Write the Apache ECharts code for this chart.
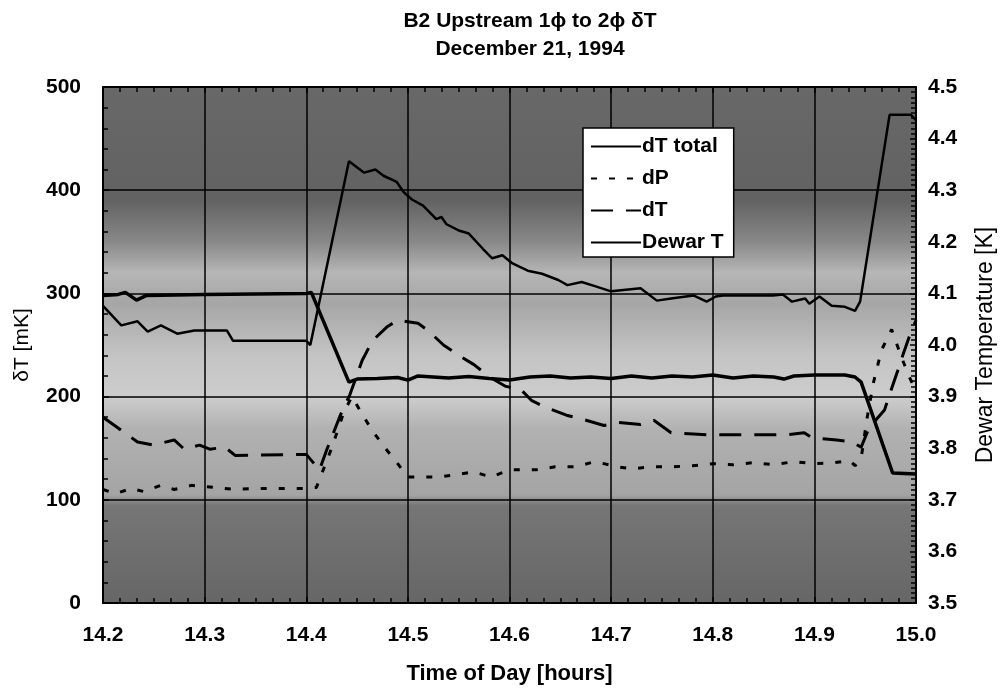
<!DOCTYPE html>
<html>
<head>
<meta charset="utf-8">
<script src="https://cdn.jsdelivr.net/npm/echarts@6/dist/echarts.min.js"></script>
<style>
html,body{margin:0;padding:0;background:#fff;overflow:hidden;}
#chart{width:1005px;height:690px;}
</style>
</head>
<body>
<div id="chart"></div>
<script>
// ---- data (time of day [hours], value) ----
const titleLines = ['B2 Upstream 1\u03d5 to 2\u03d5 \u03b4T', 'December 21, 1994'];
const seriesNames = ['dT total', 'dP', 'dT', 'Dewar T'];
const xTickLabels = ['14.2','14.3','14.4','14.5','14.6','14.7','14.8','14.9','15.0'];

// dT total [mK]
const dTTotal = [
  [14.2,288],[14.218,269],[14.234,273],[14.244,263],[14.257,269],[14.273,261],[14.29,264],
  [14.322,264],[14.328,254],[14.4,254],[14.404,250],[14.442,428],[14.457,417],[14.468,420],
  [14.476,414],[14.489,408],[14.496,398],[14.504,391],[14.515,385],[14.528,372],[14.533,374],
  [14.538,367],[14.55,361],[14.56,358],[14.574,343],[14.583,334],[14.593,337],[14.603,329],
  [14.618,322],[14.632,319],[14.648,313],[14.657,308],[14.671,311],[14.684,307],[14.7,302],
  [14.729,305],[14.745,293],[14.759,295],[14.781,298],[14.794,292],[14.803,297],[14.81,298],
  [14.859,298],[14.869,299],[14.878,292],[14.891,295],[14.895,290],[14.905,297],[14.917,288],
  [14.93,287],[14.94,283],[14.945,292],[14.974,473],[14.995,473],[15.0,468]
];

// dP [mK]
const dP = [
  [14.2,110],[14.212,106],[14.228,111],[14.24,108],[14.257,114],[14.27,110],[14.287,114],
  [14.31,112],[14.33,110],[14.35,111],[14.4,111],[14.41,112],[14.425,150],[14.437,185],
  [14.445,200],[14.455,183],[14.465,167],[14.477,151],[14.49,135],[14.5,122],[14.51,122],
  [14.53,122],[14.545,124],[14.565,127],[14.582,122],[14.6,129],[14.626,129],[14.645,132],
  [14.665,132],[14.684,137],[14.706,132],[14.72,130],[14.74,132],[14.76,132],[14.78,133],
  [14.8,135],[14.82,134],[14.84,136],[14.86,134],[14.88,137],[14.9,135],[14.92,136],
  [14.935,138],[14.94,133],[14.946,140],[14.952,180],[14.958,213],[14.966,245],[14.976,265],
  [14.985,240],[14.993,220],[15.0,205]
];

// dT [mK]
const dT = [
  [14.2,180],[14.234,156],[14.25,153],[14.27,158],[14.28,149],[14.295,153],[14.305,149],
  [14.32,151],[14.33,143],[14.4,144],[14.413,129],[14.42,148],[14.434,183],[14.443,202],
  [14.455,235],[14.465,254],[14.48,268],[14.49,274],[14.51,271],[14.52,264],[14.535,250],
  [14.55,240],[14.565,231],[14.582,218],[14.596,210],[14.611,207],[14.622,196],[14.637,189],
  [14.656,182],[14.672,178],[14.693,172],[14.706,175],[14.729,173],[14.742,177],[14.759,165],
  [14.796,163],[14.872,163],[14.89,165],[14.898,160],[14.922,158],[14.937,156],[14.946,151],
  [14.954,170],[14.969,187],[14.974,202],[14.982,225],[14.987,240],[14.993,257],[15.0,274]
];

// Dewar temperature [K]
const dewarT = [
  [14.2,4.096],[14.215,4.098],[14.222,4.102],[14.233,4.087],[14.243,4.096],[14.3,4.098],
  [14.4,4.1],[14.405,4.102],[14.442,3.928],[14.45,3.934],[14.47,3.935],[14.49,3.937],
  [14.5,3.932],[14.51,3.94],[14.54,3.936],[14.56,3.939],[14.58,3.935],[14.6,3.932],
  [14.62,3.938],[14.64,3.94],[14.66,3.936],[14.68,3.938],[14.7,3.935],[14.72,3.94],
  [14.74,3.936],[14.76,3.94],[14.78,3.938],[14.8,3.942],[14.82,3.936],[14.84,3.94],
  [14.86,3.938],[14.87,3.934],[14.88,3.94],[14.9,3.942],[14.93,3.942],[14.94,3.938],
  [14.946,3.928],[14.977,3.752],[15.0,3.75]
];

// ---- chart ----
const FONT = "'Liberation Sans', Arial, Helvetica, sans-serif";
const chart = echarts.init(document.getElementById('chart'), null, {renderer:'canvas', width:1005, height:690});

const bg = new echarts.graphic.LinearGradient(0,0,0,1,[
  {offset:0.00, color:'#686868'},
  {offset:0.22, color:'#626262'},
  {offset:0.30, color:'#888888'},
  {offset:0.36, color:'#b6b6b6'},
  {offset:0.42, color:'#a6a6a6'},
  {offset:0.52, color:'#c4c4c4'},
  {offset:0.60, color:'#cdcdcd'},
  {offset:0.66, color:'#b2b2b2'},
  {offset:0.79, color:'#a4a4a4'},
  {offset:0.81, color:'#767676'},
  {offset:1.00, color:'#666666'}
]);

const labelStyle = {fontFamily:FONT, fontWeight:'bold', fontSize:21, color:'#000'};

chart.setOption({
  animation:false,
  backgroundColor:'#fff',
  textStyle:{fontFamily:FONT},
  title:{
    text: titleLines.join('\n'),
    left:525, top:2, textAlign:'center',
    textStyle:{fontFamily:FONT, fontWeight:'bold', fontSize:21, lineHeight:28, color:'#000'}
  },
  grid:{
    left:103, right:80, top:87, bottom:83,
    show:true, backgroundColor:bg, borderColor:'#000', borderWidth:1.5
  },
  legend:{
    orient:'vertical', left:583, top:128,
    data:seriesNames,
    backgroundColor:'#fff', borderColor:'#000', borderWidth:1.5,
    padding:[8,10,4,7],
    itemWidth:50, itemHeight:16, itemGap:11,
    itemStyle:{color:'rgba(0,0,0,0)', borderWidth:0},
    textStyle:{fontFamily:FONT, fontWeight:'bold', fontSize:21, color:'#000', padding:[0,0,0,-4]}
  },
  xAxis:[{
    type:'value', min:14.2, max:15.0, interval:0.1,
    name:'Time of Day [hours]', nameLocation:'middle', nameGap:60,
    nameTextStyle:{fontFamily:FONT, fontWeight:'bold', fontSize:22, color:'#000'},
    axisLine:{show:true, onZero:false, lineStyle:{color:'#000', width:2}},
    axisTick:{show:true, inside:true, length:6, lineStyle:{color:'#000', width:1.5}},
    minorTick:{show:true, splitNumber:6, length:5, lineStyle:{color:'#000', width:1.5}},
    axisLabel:Object.assign({margin:22, formatter:(v)=>{
      const s = v.toFixed(1); return xTickLabels.indexOf(s) >= 0 ? s : '';
    }}, labelStyle),
    splitLine:{show:true, lineStyle:{color:'#000', width:1.5}}
  },{
    type:'value', position:'top', min:14.2, max:15.0, interval:0.1,
    axisLine:{show:true, onZero:false, lineStyle:{color:'#000', width:1.5}},
    axisTick:{show:true, inside:true, length:6, lineStyle:{color:'#000', width:1.5}},
    minorTick:{show:true, splitNumber:6, length:5, lineStyle:{color:'#000', width:1.5}},
    axisLabel:{show:false}, splitLine:{show:false}
  }],
  yAxis:[{
    type:'value', min:0, max:500, interval:100, position:'left',
    name:'\u03b4T [mK]', nameLocation:'middle', nameGap:70,
    nameTextStyle:{fontFamily:FONT, fontSize:21, color:'#000'},
    axisLine:{show:true, onZero:false, lineStyle:{color:'#000', width:2}},
    axisTick:{show:true, inside:true, length:6, lineStyle:{color:'#000', width:1.5}},
    minorTick:{show:true, splitNumber:5, length:5, lineStyle:{color:'#000', width:1.5}},
    axisLabel:Object.assign({margin:22}, labelStyle),
    splitLine:{show:true, lineStyle:{color:'#000', width:1.5}}
  },{
    type:'value', min:3.5, max:4.5, interval:0.1, position:'right',
    name:'Dewar Temperature [K]', nameLocation:'middle', nameGap:58,
    nameTextStyle:{fontFamily:FONT, fontSize:23, color:'#000'},
    axisLine:{show:true, onZero:false, lineStyle:{color:'#000', width:2}},
    axisTick:{show:true, inside:true, length:6, lineStyle:{color:'#000', width:1.5}},
    minorTick:{show:true, splitNumber:10, length:5, lineStyle:{color:'#000', width:1.5}},
    axisLabel:Object.assign({margin:12, formatter:(v)=>v.toFixed(1)}, labelStyle),
    splitLine:{show:false}
  }],
  series:[
    {name:seriesNames[0], type:'line', data:dTTotal, xAxisIndex:0, yAxisIndex:0,
     symbol:'none', lineStyle:{color:'#000', width:2.5}, itemStyle:{color:'#000'}, z:3},
    {name:seriesNames[1], type:'line', data:dP, xAxisIndex:0, yAxisIndex:0,
     symbol:'none', lineStyle:{color:'#000', width:3, type:[6,12], cap:'butt'}, itemStyle:{color:'#000'}, z:3},
    {name:seriesNames[2], type:'line', data:dT, xAxisIndex:0, yAxisIndex:0,
     symbol:'none', lineStyle:{color:'#000', width:3, type:[22,13], cap:'butt'}, itemStyle:{color:'#000'}, z:3},
    {name:seriesNames[3], type:'line', data:dewarT, xAxisIndex:0, yAxisIndex:1,
     symbol:'none', lineStyle:{color:'#000', width:3.5}, itemStyle:{color:'#000'}, z:4}
  ]
});
</script>
</body>
</html>
